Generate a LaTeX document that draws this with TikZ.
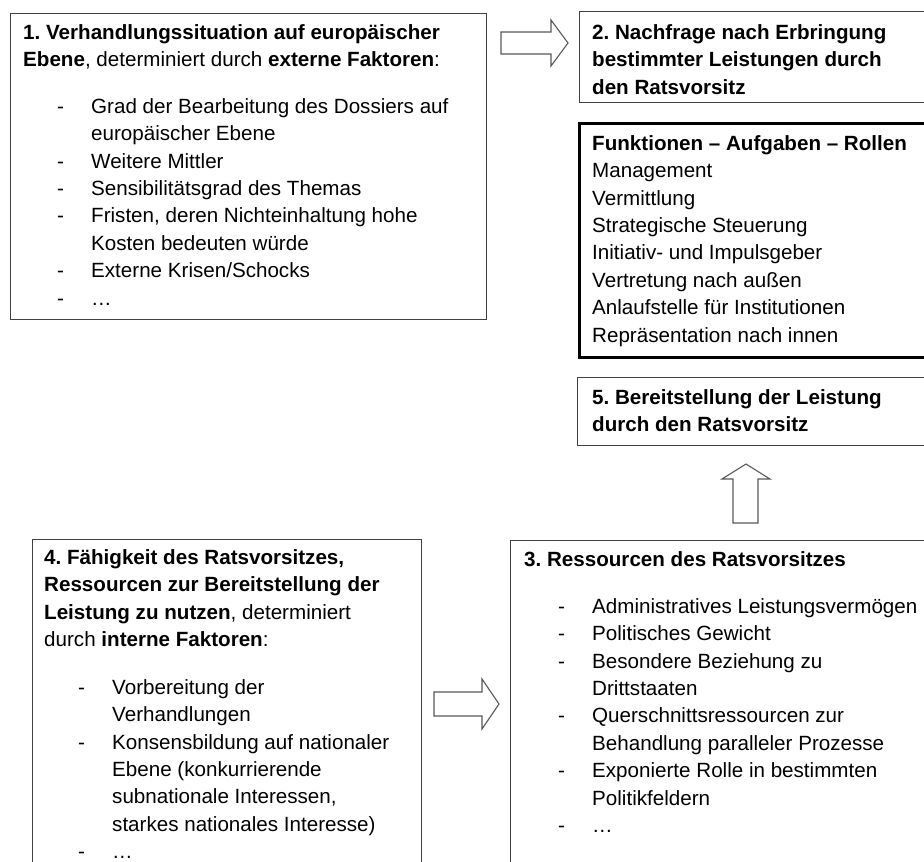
\documentclass[tikz,border=0pt]{standalone}
\usepackage{fontspec}
\setmainfont{Liberation Sans}
\usepackage{xcolor}
\frenchspacing

\newcommand{\itm}{\makebox[34pt][l]{-}}
\newcommand{\cnt}{\hspace*{34pt}}
\newcommand{\fl}{\rule{0pt}{20pt}}

\begin{document}
\begin{tikzpicture}[x=1pt, y=-1pt,
    box/.style={draw=black!75, line width=1.2pt, anchor=north west, inner sep=0pt},
    txt/.style={anchor=north west, inner sep=0pt, align=left,
      font=\fontsize{20.6pt}{27.4pt}\selectfont},
    blk/.style={draw=black!65, line width=1.1pt, fill=white, line join=miter}]
    \useasboundingbox (0,0) rectangle (924,862);
    \clip (0,0) rectangle (924,862);

    % Kästen
    \node[box, minimum width=476pt, minimum height=306pt] (sit) at (10,13) {};
    \node[box, minimum width=356pt, minimum height=91pt] (nach) at (579,11) {};
    \node[box, line width=3.3pt, draw=black, minimum width=357pt, minimum height=234pt] (funk) at (578,122) {};
    \node[box, minimum width=358pt, minimum height=68pt] (bereit) at (577,377) {};
    \node[box, minimum width=425pt, minimum height=335pt] (ress) at (510,540) {};
    \node[box, minimum width=389pt, minimum height=336pt] (faeh) at (32,539) {};

    % 1. Verhandlungssituation
    \node[txt] (sitkopf) at (23,19) {\fl\textbf{1. Verhandlungssituation auf europäischer}\\
      \textbf{Ebene}, determiniert durch \textbf{externe Faktoren}:};
    \node[txt] (sitliste) at (57,93) {\fl\itm Grad der Bearbeitung des Dossiers auf\\
      \cnt europäischer Ebene\\
      \itm Weitere Mittler\\
      \itm Sensibilitätsgrad des Themas\\
      \itm Fristen, deren Nichteinhaltung hohe\\
      \cnt Kosten bedeuten würde\\
      \itm Externe Krisen/Schocks\\
      \itm …};

    % 2. Nachfrage
    \node[txt] (nachtext) at (592,19) {\fl\textbf{2. Nachfrage nach Erbringung}\\
      \textbf{bestimmter Leistungen durch}\\
      \textbf{den Ratsvorsitz}};

    % Funktionen
    \node[txt] (funktext) at (592,130) {\fl\textbf{Funktionen – Aufgaben – Rollen}\\
      Management\\
      Vermittlung\\
      Strategische Steuerung\\
      Initiativ- und Impulsgeber\\
      Vertretung nach außen\\
      Anlaufstelle für Institutionen\\
      Repräsentation nach innen};

    % 5. Bereitstellung
    \node[txt] (bereittext) at (592,384) {\fl\textbf{5. Bereitstellung der Leistung}\\
      \textbf{durch den Ratsvorsitz}};

    % 3. Ressourcen
    \node[txt] (resskopf) at (524,546) {\fl\textbf{3. Ressourcen des Ratsvorsitzes}};
    \node[txt] (ressliste) at (558,593) {\fl\itm Administratives Leistungsvermögen\\
      \itm Politisches Gewicht\\
      \itm Besondere Beziehung zu\\
      \cnt Drittstaaten\\
      \itm Querschnittsressourcen zur\\
      \cnt Behandlung paralleler Prozesse\\
      \itm Exponierte Rolle in bestimmten\\
      \cnt Politikfeldern\\
      \itm …};

    % 4. Fähigkeit
    \node[txt] (faehkopf) at (44,544) {\fl\textbf{4. Fähigkeit des Ratsvorsitzes,}\\
      \textbf{Ressourcen zur Bereitstellung der}\\
      \textbf{Leistung zu nutzen}, determiniert\\
      durch \textbf{interne Faktoren}:};
    \node[txt] (faehliste) at (78,674) {\fl\itm Vorbereitung der\\
      \cnt Verhandlungen\\
      \itm Konsensbildung auf nationaler\\
      \cnt Ebene (konkurrierende\\
      \cnt subnationale Interessen,\\
      \cnt starkes nationales Interesse)\\
      \itm …};

    % Blockpfeile
    \draw[blk] (501,32) -- (551,32) -- (551,20) -- (568,43) -- (551,66) -- (551,54) -- (501,54) -- cycle;
    \draw[blk] (733,523) -- (733,479) -- (722,479) -- (746,464) -- (770,479) -- (758,479) -- (758,523) -- cycle;
    \draw[blk] (434,692) -- (482,692) -- (482,679) -- (499,704) -- (482,729) -- (482,716) -- (434,716) -- cycle;
\end{tikzpicture}
\end{document}
